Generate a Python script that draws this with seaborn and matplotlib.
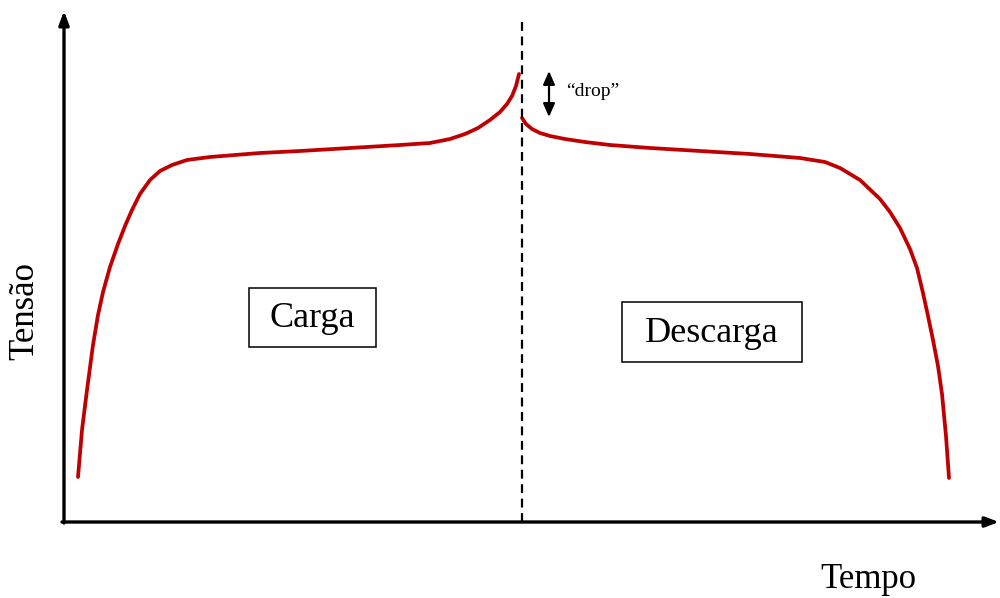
import pandas as pd
import seaborn as sns
import matplotlib.pyplot as plt
from matplotlib.patches import Rectangle

# ------------------------------------------------------------------------------
# Data (in pixel-like units: x = tempo, y = tensão)
# ------------------------------------------------------------------------------
tempo_carga = [78, 82, 87, 93, 98, 103, 110, 118, 125, 132, 140, 150, 160, 172, 187,
               210, 260, 300, 350, 400, 430, 450, 465, 478, 490, 500, 507, 512, 516, 519]
tensao_carga = [121, 168, 208, 253, 283, 306, 331, 354, 372, 388, 404, 418, 427, 433, 438,
                441, 445, 447, 450, 453, 455, 459, 464, 470, 478, 486, 494, 502, 512, 524]

tempo_descarga = [522, 526, 532, 540, 550, 565, 585, 610, 650, 700, 750, 800, 825, 840,
                  860, 880, 890, 900, 910, 917, 923, 928, 933, 938, 942, 946, 949]
tensao_descarga = [480, 474, 469, 465, 462, 459, 456, 453, 450, 447, 444, 440, 436, 430,
                   418, 399, 386, 370, 349, 330, 305, 282, 258, 232, 204, 162, 120]

fase_rotulos = ["Carga", "Descarga"]

df_carga = pd.DataFrame({"tempo": tempo_carga, "tensao": tensao_carga})
df_descarga = pd.DataFrame({"tempo": tempo_descarga, "tensao": tensao_descarga})

# ------------------------------------------------------------------------------
# Plot
# ------------------------------------------------------------------------------
sns.set_style("white")
plt.rcParams['font.family'] = ['Liberation Serif', 'DejaVu Serif']
plt.rcParams['text.color'] = 'black'

fig = plt.figure(figsize=(10, 5.98), dpi=100)
ax = fig.add_axes([0, 0, 1, 1])
ax.set_xlim(0, 1000)
ax.set_ylim(0, 598)
ax.axis('off')

red = '#C00000'
sns.lineplot(data=df_carga, x='tempo', y='tensao', sort=False, color=red, lw=2.7, ax=ax)
sns.lineplot(data=df_descarga, x='tempo', y='tensao', sort=False, color=red, lw=2.7, ax=ax)

# axes with arrow heads
seta = dict(arrowstyle='-|>,head_length=0.8,head_width=0.3', color='black', lw=2.4,
            shrinkA=0, shrinkB=0)
ax.annotate('', xy=(64, 587), xytext=(64, 75), arrowprops=seta, annotation_clip=False)
ax.annotate('', xy=(999, 76), xytext=(62, 76), arrowprops=seta, annotation_clip=False)

# separation carga / descarga
ax.plot([522, 522], [76, 578], color='black', lw=1.6, ls=(0, (4, 2.5)))

# "drop" arrow
ax.annotate('', xy=(549, 527), xytext=(549, 481),
            arrowprops=dict(arrowstyle='<|-|>,head_length=0.8,head_width=0.35', color='black',
                            lw=1.6, shrinkA=0, shrinkB=0))
ax.text(566, 507, '\u201cdrop\u201d', fontsize=14, va='center', ha='left')

# phase boxes
caixas = [((312.5, 280.5), 127, 59), ((712, 266), 180, 60)]
for rotulo, ((cx, cy), w, h) in zip(fase_rotulos, caixas):
    ax.add_patch(Rectangle((cx - w / 2, cy - h / 2), w, h, fc='white', ec='black', lw=1.1, zorder=3))
    ax.text(cx, cy - 1, rotulo, fontsize=26, ha='center', va='center', zorder=4)

ax.text(25, 287, 'Tensão', fontsize=25, rotation=90, ha='center', va='center')
ax.text(868, 18, 'Tempo', fontsize=25, ha='center', va='center')

plt.savefig('out.png', dpi=100)
